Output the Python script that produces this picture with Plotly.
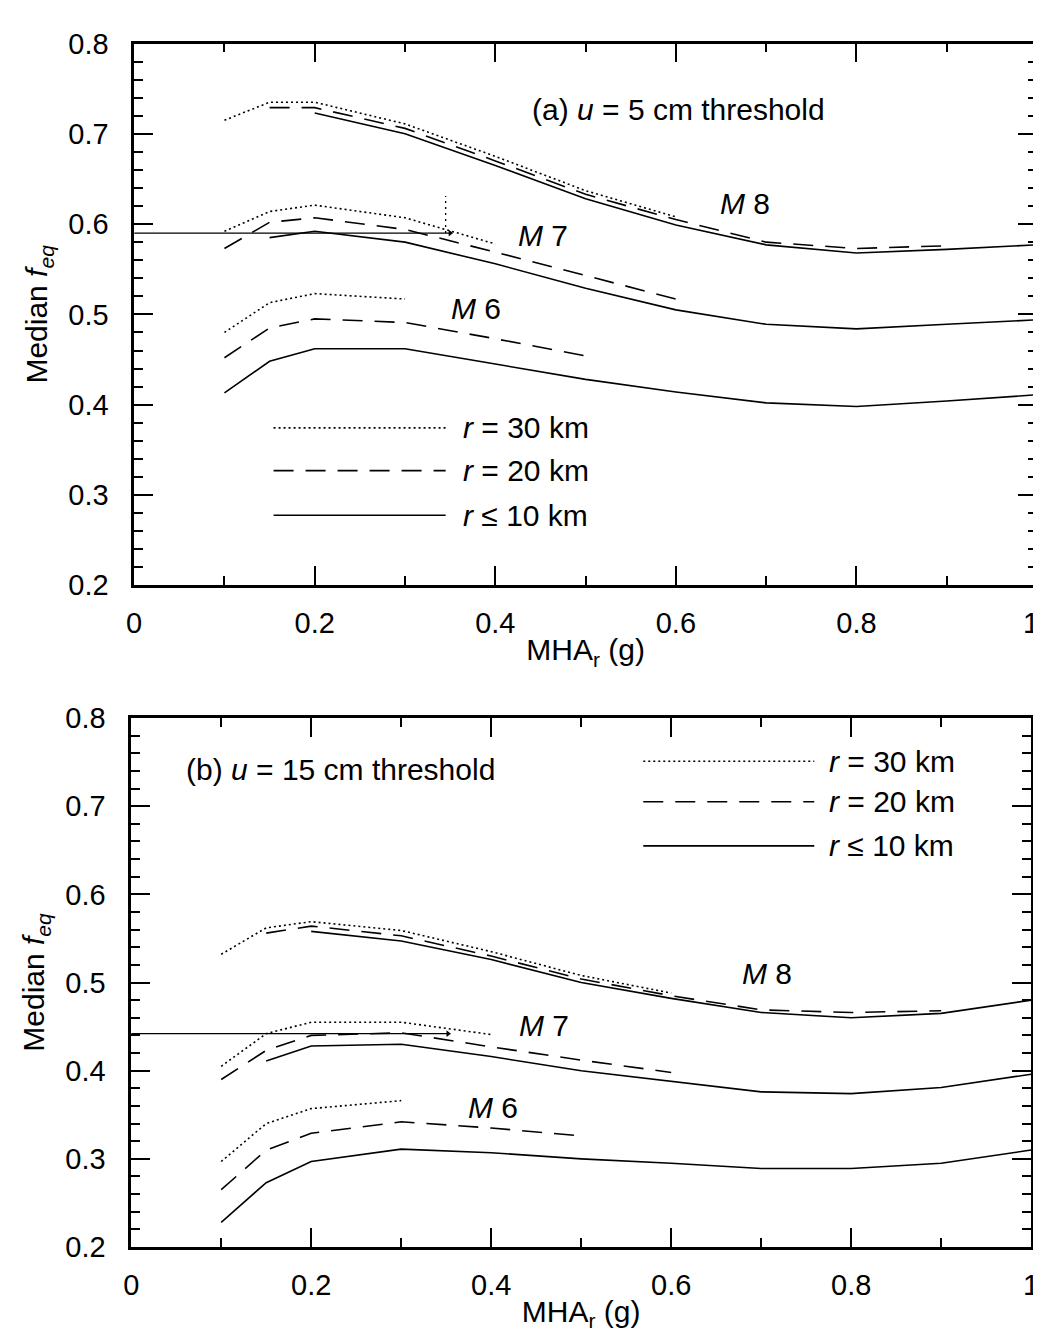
import plotly.graph_objects as go

# ---------------- data ----------------
# Panel (a): u = 5 cm threshold
a_m8_r30_x = [0.1, 0.15, 0.2, 0.3, 0.4, 0.5, 0.6]
a_m8_r30_y = [0.715, 0.735, 0.735, 0.711, 0.675, 0.637, 0.608]
a_m8_r20_x = [0.15, 0.2, 0.3, 0.4, 0.5, 0.6, 0.7, 0.8, 0.9]
a_m8_r20_y = [0.729, 0.729, 0.706, 0.670, 0.633, 0.605, 0.580, 0.573, 0.576]
a_m8_r10_x = [0.2, 0.3, 0.4, 0.5, 0.6, 0.7, 0.8, 0.9, 1.0]
a_m8_r10_y = [0.723, 0.700, 0.665, 0.628, 0.599, 0.577, 0.568, 0.572, 0.577]

a_m7_r30_x = [0.1, 0.15, 0.2, 0.3, 0.4]
a_m7_r30_y = [0.592, 0.614, 0.621, 0.607, 0.578]
a_m7_r20_x = [0.1, 0.15, 0.2, 0.3, 0.4, 0.5, 0.6]
a_m7_r20_y = [0.573, 0.602, 0.607, 0.594, 0.569, 0.543, 0.517]
a_m7_r10_x = [0.15, 0.2, 0.3, 0.4, 0.5, 0.6, 0.7, 0.8, 0.9, 1.0]
a_m7_r10_y = [0.585, 0.592, 0.580, 0.556, 0.529, 0.505, 0.489, 0.484, 0.489, 0.494]

a_m6_r30_x = [0.1, 0.15, 0.2, 0.3]
a_m6_r30_y = [0.480, 0.513, 0.523, 0.517]
a_m6_r20_x = [0.1, 0.15, 0.2, 0.3, 0.4, 0.5]
a_m6_r20_y = [0.452, 0.485, 0.495, 0.491, 0.473, 0.454]
a_m6_r10_x = [0.1, 0.15, 0.2, 0.3, 0.4, 0.5, 0.6, 0.7, 0.8, 0.9, 1.0]
a_m6_r10_y = [0.413, 0.448, 0.462, 0.462, 0.445, 0.428, 0.414, 0.402, 0.398, 0.404, 0.411]

a_ref_level = 0.59
a_ref_end = 0.35
a_mark_x = 0.345
a_mark_top = 0.631

# Panel (b): u = 15 cm threshold
b_m8_r30_x = [0.1, 0.15, 0.2, 0.3, 0.4, 0.5, 0.6]
b_m8_r30_y = [0.532, 0.562, 0.569, 0.559, 0.535, 0.508, 0.488]
b_m8_r20_x = [0.15, 0.2, 0.3, 0.4, 0.5, 0.6, 0.7, 0.8, 0.9]
b_m8_r20_y = [0.556, 0.564, 0.553, 0.530, 0.504, 0.485, 0.469, 0.466, 0.468]
b_m8_r10_x = [0.2, 0.3, 0.4, 0.5, 0.6, 0.7, 0.8, 0.9, 1.0]
b_m8_r10_y = [0.558, 0.547, 0.526, 0.500, 0.482, 0.466, 0.460, 0.465, 0.480]

b_m7_r30_x = [0.1, 0.15, 0.2, 0.3, 0.4]
b_m7_r30_y = [0.405, 0.442, 0.455, 0.455, 0.441]
b_m7_r20_x = [0.1, 0.15, 0.2, 0.3, 0.4, 0.5, 0.6]
b_m7_r20_y = [0.390, 0.423, 0.440, 0.443, 0.427, 0.412, 0.398]
b_m7_r10_x = [0.15, 0.2, 0.3, 0.4, 0.5, 0.6, 0.7, 0.8, 0.9, 1.0]
b_m7_r10_y = [0.411, 0.428, 0.430, 0.416, 0.400, 0.388, 0.376, 0.374, 0.381, 0.396]

b_m6_r30_x = [0.1, 0.15, 0.2, 0.3]
b_m6_r30_y = [0.297, 0.340, 0.357, 0.366]
b_m6_r20_x = [0.1, 0.15, 0.2, 0.3, 0.4, 0.5]
b_m6_r20_y = [0.265, 0.310, 0.329, 0.342, 0.335, 0.326]
b_m6_r10_x = [0.1, 0.15, 0.2, 0.3, 0.4, 0.5, 0.6, 0.7, 0.8, 0.9, 1.0]
b_m6_r10_y = [0.228, 0.273, 0.297, 0.311, 0.307, 0.300, 0.295, 0.289, 0.289, 0.295, 0.310]

b_ref_level = 0.442
b_ref_end = 0.352

x_tick_vals = [0, 0.2, 0.4, 0.6, 0.8, 1.0]
x_tick_text = ["0", "0.2", "0.4", "0.6", "0.8", "1"]
x_ticks_minor = 0.1
y_ticks_major = 0.1
y_ticks_minor = 0.02
legend_labels = ["<i>r</i> = 30 km", "<i>r</i> = 20 km", "<i>r</i> \u2264 10 km"]

# ---------------- styling ----------------
FONT = "Arial, Liberation Sans, Helvetica, sans-serif"
FS_TICK = 29
FS_TXT = 30
DOT = "2px,3px"
DASH = "20px,12px"
LW = 1.6
styles = {"r30": DOT, "r20": DASH, "r10": "solid"}

fig = go.Figure()


def add_curve(x, y, key, xa, ya):
    fig.add_trace(go.Scatter(x=x, y=y, mode="lines", xaxis=xa, yaxis=ya,
                             line=dict(color="black", width=LW, dash=styles[key]),
                             showlegend=False, hoverinfo="skip"))


panel_a = [
    (a_m8_r30_x, a_m8_r30_y, "r30"), (a_m8_r20_x, a_m8_r20_y, "r20"), (a_m8_r10_x, a_m8_r10_y, "r10"),
    (a_m7_r30_x, a_m7_r30_y, "r30"), (a_m7_r20_x, a_m7_r20_y, "r20"), (a_m7_r10_x, a_m7_r10_y, "r10"),
    (a_m6_r30_x, a_m6_r30_y, "r30"), (a_m6_r20_x, a_m6_r20_y, "r20"), (a_m6_r10_x, a_m6_r10_y, "r10"),
]
panel_b = [
    (b_m8_r30_x, b_m8_r30_y, "r30"), (b_m8_r20_x, b_m8_r20_y, "r20"), (b_m8_r10_x, b_m8_r10_y, "r10"),
    (b_m7_r30_x, b_m7_r30_y, "r30"), (b_m7_r20_x, b_m7_r20_y, "r20"), (b_m7_r10_x, b_m7_r10_y, "r10"),
    (b_m6_r30_x, b_m6_r30_y, "r30"), (b_m6_r20_x, b_m6_r20_y, "r20"), (b_m6_r10_x, b_m6_r10_y, "r10"),
]
for x, y, k in panel_a:
    add_curve(x, y, k, "x", "y")
for x, y, k in panel_b:
    add_curve(x, y, k, "x2", "y2")

# reference horizontal lines with small arrowheads
for xa, ya, xe, lev in [("x", "y", a_ref_end, a_ref_level), ("x2", "y2", b_ref_end, b_ref_level)]:
    fig.add_trace(go.Scatter(x=[0, xe], y=[lev, lev], mode="lines",
                             line=dict(color="black", width=1.3), xaxis=xa, yaxis=ya,
                             showlegend=False, hoverinfo="skip"))
    fig.add_trace(go.Scatter(x=[xe], y=[lev], mode="markers",
                             marker=dict(symbol="triangle-right", size=6, color="black"),
                             xaxis=xa, yaxis=ya, showlegend=False, hoverinfo="skip"))
fig.add_trace(go.Scatter(x=[a_mark_x, a_mark_x], y=[a_ref_level, a_mark_top], mode="lines",
                         line=dict(color="black", width=1.3, dash="2px,4px"), xaxis="x", yaxis="y",
                         showlegend=False, hoverinfo="skip"))

annotations = []
shapes = []


def text(x, y, s, xr, yr, anchor="left", size=FS_TXT, **kw):
    d = dict(x=x, y=y, xref=xr, yref=yr, text=s, showarrow=False,
             xanchor=anchor, yanchor="middle",
             font=dict(family=FONT, size=size, color="black"))
    d.update(kw)
    annotations.append(d)


# panel (a) texts
text(0.438, 0.727, "(a) <i>u</i> = 5 cm threshold", "x", "y")
text(0.647, 0.623, "<i>M</i> 8", "x", "y")
text(0.423, 0.587, "<i>M</i> 7", "x", "y")
text(0.349, 0.506, "<i>M</i> 6", "x", "y")
# last x tick label of panel (a), nudged left so it stays inside the page
text(x_tick_vals[-1], 0.2, x_tick_text[-1], "x", "y", anchor="center", size=FS_TICK,
     xshift=-6, yshift=-38)
# panel (b) texts
text(0.0585, 0.742, "(b) <i>u</i> = 15 cm threshold", "x2", "y2")
text(0.677, 0.510, "<i>M</i> 8", "x2", "y2")
text(0.429, 0.451, "<i>M</i> 7", "x2", "y2")
text(0.372, 0.3585, "<i>M</i> 6", "x2", "y2")


def legend(xr, yr, x0, x1, xl, ys):
    for (k, yy, lab) in zip(["r30", "r20", "r10"], ys, legend_labels):
        shapes.append(dict(type="line", xref=xr, yref=yr, x0=x0, x1=x1, y0=yy, y1=yy,
                           line=dict(color="black", width=LW, dash=styles[k])))
        text(xl, yy, lab, xr, yr)


legend("x", "y", 0.1544, 0.345, 0.362, [0.3743, 0.3270, 0.2776])
legend("x2", "y2", 0.569, 0.759, 0.773, [0.751, 0.705, 0.655])

W, H = 1041, 1338


def x_axis(domain, anchor, labels):
    return dict(range=[0, 1], tickmode="array", tickvals=x_tick_vals,
                ticktext=labels,
                ticks="inside", ticklen=19, tickwidth=2,
                showline=True, linewidth=2.5, linecolor="black", mirror="allticks",
                showgrid=False, zeroline=False, tickcolor="black",
                minor=dict(dtick=x_ticks_minor, tick0=0, ticks="inside", ticklen=9, tickwidth=2,
                           tickcolor="black", showgrid=False),
                tickfont=dict(family=FONT, size=FS_TICK, color="black"),
                ticklabelstandoff=10, domain=domain, anchor=anchor,
                title=dict(text="MHA<sub>r</sub> (g)", font=dict(family=FONT, size=FS_TXT, color="black"),
                           standoff=2))


def y_axis(domain, anchor):
    return dict(range=[0.2, 0.8], dtick=y_ticks_major, tick0=0.2, ticks="inside", ticklen=19, tickwidth=2,
                showline=True, linewidth=2.5, linecolor="black", mirror="allticks",
                showgrid=False, zeroline=False, tickcolor="black", tickformat=".1f",
                minor=dict(dtick=y_ticks_minor, tick0=0.2, ticks="inside", ticklen=9, tickwidth=2,
                           tickcolor="black", showgrid=False),
                tickfont=dict(family=FONT, size=FS_TICK, color="black"),
                ticklabelstandoff=17, domain=domain, anchor=anchor,
                title=dict(text="Median <i>f<sub>eq</sub></i>",
                           font=dict(family=FONT, size=FS_TXT, color="black"), standoff=12))


fig.update_layout(
    width=W, height=H, margin=dict(l=0, r=0, t=0, b=0),
    paper_bgcolor="white", plot_bgcolor="white", showlegend=False,
    xaxis=x_axis([120 / W, 1037 / W], "y", x_tick_text[:-1] + [" "]),
    yaxis=y_axis([(H - 575) / H, (H - 20) / H], "x"),
    xaxis2=x_axis([117 / W, 1031 / W], "y2", x_tick_text),
    yaxis2=y_axis([(H - 1253) / H, (H - 711) / H], "x2"),
    annotations=annotations, shapes=shapes,
)

fig.write_html("out.html")
